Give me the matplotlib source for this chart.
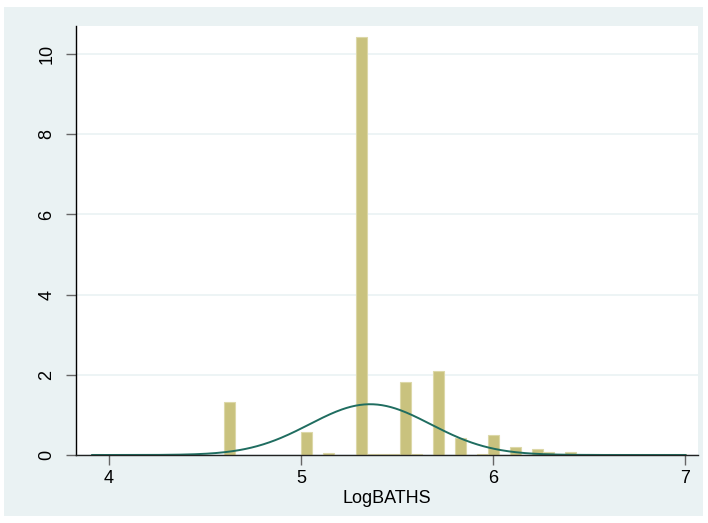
import numpy as np
import matplotlib
matplotlib.use('Agg')
import matplotlib.pyplot as plt
from matplotlib.patches import Rectangle

# Histogram of LogBATHS (density scale), 54 equal bins over the data range
x_min = 3.912
x_max = 7.003
n_bins = 54
density = [
    0.02, 0, 0, 0, 0, 0, 0, 0, 0, 0,
    0, 0, 1.32, 0, 0, 0, 0, 0, 0, 0.58,
    0, 0.04, 0, 0, 10.42, 0.015, 0.015, 0.015, 1.83, 0.03,
    0, 2.09, 0, 0.43, 0, 0.02, 0.49, 0, 0.19, 0,
    0.14, 0.08, 0, 0.07, 0, 0.015, 0.015, 0.015, 0.015, 0.015,
    0.015, 0.015, 0.015, 0.015,
]

# Normal density overlay
norm_mean = 5.36
norm_sd = 0.315

x_ticks = [4, 5, 6, 7]
y_ticks = [0, 2, 4, 6, 8, 10]

plt.rcParams['font.family'] = ['Liberation Sans', 'DejaVu Sans']

W, H = 708, 523
fig = plt.figure(figsize=(W / 100, H / 100), dpi=100)
fig.patch.set_facecolor('white')
# light outer panel behind the plot region
fig.patches.append(Rectangle((4 / W, 1 - 516 / H), 699 / W, 509 / H,
                             transform=fig.transFigure, facecolor='#eaf2f3',
                             edgecolor='none', zorder=-1))

ax = fig.add_axes([76 / W, 1 - 455 / H, (698 - 76) / W, (455 - 26) / H])
ax.set_zorder(1)
ax.set_facecolor('white')

edges = np.linspace(x_min, x_max, n_bins + 1)
heights = np.array(density)
width = edges[1] - edges[0]
keep = heights > 0
ax.bar(edges[:-1][keep], heights[keep], width=width, align='edge',
       color='#c9c27e', edgecolor='#dcd8a8', linewidth=0.8, zorder=2)

xs = np.linspace(x_min, x_max, 400)
ys = np.exp(-0.5 * ((xs - norm_mean) / norm_sd) ** 2) / (norm_sd * np.sqrt(2 * np.pi))
ax.plot(xs, ys, color='#1f6d60', linewidth=1.4, zorder=3)

ax.set_xlim(3.828, 7.068)
ax.set_ylim(0, 10.70)
ax.set_xticks(x_ticks)
ax.set_yticks(y_ticks)
ax.set_yticklabels([str(v) for v in y_ticks], rotation=90, va='center')
ax.yaxis.grid(True, color='#eaf2f3', linewidth=1.2, zorder=1)
ax.set_axisbelow(True)

for side in ['top', 'right']:
    ax.spines[side].set_visible(False)
ax.spines['left'].set_color('black')
ax.spines['bottom'].set_color('#222222')
ax.spines['left'].set_linewidth(1.0)
ax.spines['bottom'].set_linewidth(1.0)
ax.spines['bottom'].set_zorder(4)

ax.tick_params(axis='both', direction='out', length=7, width=1.0,
               color='#666666', labelsize=13)
ax.tick_params(axis='x', pad=4)
ax.tick_params(axis='y', pad=8)
ax.set_xlabel('LogBATHS', fontsize=13, labelpad=2)

fig.savefig('out.png', dpi=100, facecolor=fig.get_facecolor())
